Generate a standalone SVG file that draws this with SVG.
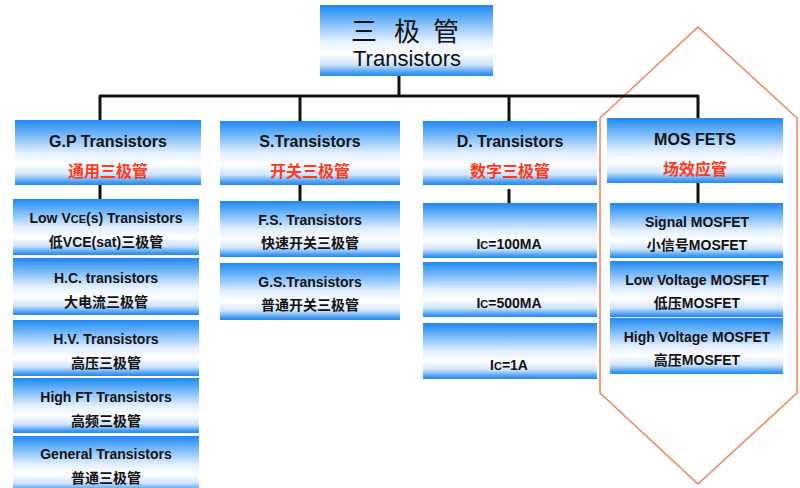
<svg xmlns="http://www.w3.org/2000/svg" width="800" height="488" viewBox="0 0 800 488">
<defs>
<linearGradient id="g" x1="0" y1="0" x2="0" y2="1">
<stop offset="0" stop-color="#1f88f2"/>
<stop offset="0.12" stop-color="#4aa2f6"/>
<stop offset="0.5" stop-color="#e2efff"/>
<stop offset="0.68" stop-color="#ffffff"/>
<stop offset="0.84" stop-color="#cfe4fb"/>
<stop offset="0.95" stop-color="#4aa0f4"/>
<stop offset="1" stop-color="#1f88f2"/>
</linearGradient>
<style>
.b{fill:url(#g);}
.en{font-family:"Liberation Sans",Arial,sans-serif;font-weight:bold;font-size:14px;fill:#111;text-anchor:middle;}
.cn{font-family:"Liberation Sans","Noto Sans CJK SC",sans-serif;font-weight:bold;font-size:14px;fill:#111;text-anchor:middle;}
.ht{font-family:"Liberation Sans",Arial,sans-serif;font-weight:bold;font-size:16px;fill:#111;text-anchor:middle;}
.red{font-family:"Noto Sans CJK SC",sans-serif;font-weight:bold;font-size:16px;fill:#ff3a1a;text-anchor:middle;}
.sm{font-size:11px;}
.ln{fill:none;stroke:#111;stroke-width:3;stroke-linejoin:round;}
</style>
</defs>
<rect width="800" height="488" fill="#ffffff"/>

<polygon points="698,27 797,118 797,393 698,484 600,393 600,118" fill="none" stroke="#f0805c" stroke-width="1.5"/>

<g id="connectors">
<path class="ln" d="M399,76 V96"/>
<path class="ln" d="M100,120 V96 H698 V118"/>
<path class="ln" d="M300,96 V121"/>
<path class="ln" d="M509,96 V121"/>
<path class="ln" d="M100,185 V199"/>
<path class="ln" d="M300,185 V201"/>
<path class="ln" d="M509,189 V203"/>
<path class="ln" d="M698,183 V203"/>
</g>

<g id="root">
<rect class="b" x="320" y="5" width="173" height="71"/>
<text x="364" y="41" font-family="Noto Sans CJK SC,sans-serif" font-size="26" fill="#111" text-anchor="middle">三</text>
<text x="407" y="41" font-family="Noto Sans CJK SC,sans-serif" font-size="26" fill="#111" text-anchor="middle">极</text>
<text x="446" y="41" font-family="Noto Sans CJK SC,sans-serif" font-size="26" fill="#111" text-anchor="middle">管</text>
<text x="407" y="66" font-family="Liberation Sans,Arial,sans-serif" font-size="22" fill="#111" text-anchor="middle">Transistors</text>
</g>

<g id="gp">
<rect class="b" x="15" y="120" width="186" height="65"/>
<text class="ht" x="108" y="147">G.P Transistors</text>
<text class="red" x="108" y="177">通用三极管</text>
</g>
<g id="gp1"><rect class="b" x="13" y="199" width="186" height="56"/>
<text class="en" x="106" y="223">Low V<tspan class="sm">CE</tspan>(s) Transistors</text>
<text class="cn" x="106" y="247">低VCE(sat)三极管</text></g>
<g id="gp2"><rect class="b" x="13" y="258" width="186" height="57"/>
<text class="en" x="106" y="283">H.C. transistors</text>
<text class="cn" x="106" y="307">大电流三极管</text></g>
<g id="gp3"><rect class="b" x="13" y="320" width="186" height="56"/>
<text class="en" x="106" y="344">H.V. Transistors</text>
<text class="cn" x="106" y="368">高压三极管</text></g>
<g id="gp4"><rect class="b" x="13" y="378" width="186" height="55"/>
<text class="en" x="106" y="402">High FT Transistors</text>
<text class="cn" x="106" y="426">高频三极管</text></g>
<g id="gp5"><rect class="b" x="13" y="436" width="186" height="56"/>
<text class="en" x="106" y="459">General Transistors</text>
<text class="cn" x="106" y="483">普通三极管</text></g>

<g id="s">
<rect class="b" x="220" y="121" width="180" height="64"/>
<text class="ht" x="310" y="147">S.Transistors</text>
<text class="red" x="310" y="177">开关三极管</text>
</g>
<g id="s1"><rect class="b" x="220" y="201" width="180" height="56"/>
<text class="en" x="310" y="225">F.S. Transistors</text>
<text class="cn" x="310" y="248">快速开关三极管</text></g>
<g id="s2"><rect class="b" x="220" y="263" width="180" height="57"/>
<text class="en" x="310" y="287">G.S.Transistors</text>
<text class="cn" x="310" y="310">普通开关三极管</text></g>

<g id="d">
<rect class="b" x="423" y="121" width="174" height="64"/>
<text class="ht" x="510" y="147">D. Transistors</text>
<text class="red" x="510" y="177">数字三极管</text>
</g>
<g id="d1"><rect class="b" x="423" y="203" width="174" height="55"/>
<text class="en" x="509" y="249">I<tspan class="sm">C</tspan>=100MA</text></g>
<g id="d2"><rect class="b" x="423" y="262" width="174" height="55"/>
<text class="en" x="509" y="308">I<tspan class="sm">C</tspan>=500MA</text></g>
<g id="d3"><rect class="b" x="423" y="323" width="174" height="56"/>
<text class="en" x="509" y="370">I<tspan class="sm">C</tspan>=1A</text></g>

<g id="mos">
<rect class="b" x="607" y="118" width="176" height="65"/>
<text class="ht" x="695" y="145">MOS FETS</text>
<text class="red" x="695" y="175">场效应管</text>
</g>
<g id="m1"><rect class="b" x="610" y="203" width="173" height="55"/>
<text class="en" x="697" y="227">Signal MOSFET</text>
<text class="cn" x="697" y="250">小信号MOSFET</text></g>
<g id="m2"><rect class="b" x="610" y="261" width="173" height="56"/>
<text class="en" x="697" y="285">Low Voltage MOSFET</text>
<text class="cn" x="697" y="308">低压MOSFET</text></g>
<g id="m3"><rect class="b" x="610" y="318" width="173" height="56"/>
<text class="en" x="697" y="342">High Voltage MOSFET</text>
<text class="cn" x="697" y="365">高压MOSFET</text></g>
</svg>
